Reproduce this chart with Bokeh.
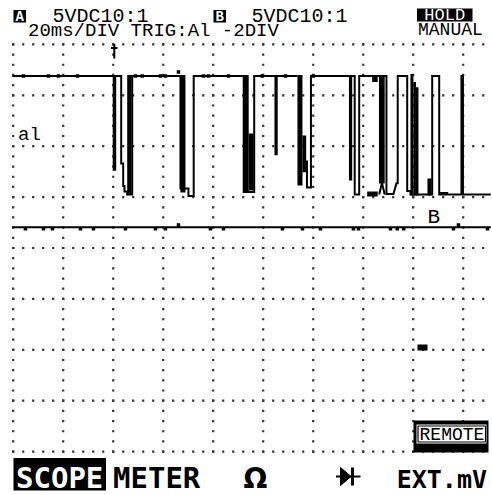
from bokeh.plotting import figure
from bokeh.models import Range1d
from bokeh.embed import file_html
from bokeh.resources import INLINE
from bokeh.core.properties import value
import numpy as np

# ---------------- scope set-up (from the header) ----------------
ms_per_div = 20            # 20ms/DIV
volts_per_div = 5          # 5VDC 10:1 on both channels
a_ground_div = 1.0         # channel A zero level, divisions above screen centre
b_ground_div = 0.41        # channel B zero level
half_screen_div = 4.8625   # visible half-height of the screen, in divisions
t_view = (-45.08, 151.72)  # visible time window, ms (trigger at 0, -2DIV)
px_per_div = 50.9          # vertical pixels per division (for text nudging)

time_grid_ms = [-40, -20, 0, 20, 40, 60, 80, 100, 120, 140]
div_grid = [4, 3, 2, 1, 0, -1, -2, -3, -4]

# ---------------- channel A trace (ms, V) ----------------
a_path_t = [
    [-40.4, 3.2, 3.2, 4.0, 4.0, 4.5, 4.5, 5.6, 5.6, 7.6, 7.6, 26.9, 26.9, 30.1,
     30.1, 32.2, 32.2, 52.2, 52.2, 56.4, 56.4, 73.7],
    [77.5, 77.5, 79.1, 79.1, 96.6, 96.6, 98.4, 98.4, 109.3, 109.3, 112.1, 113.3,
     113.8, 113.8, 117.6, 117.6, 118.9, 118.9, 127.6, 127.6, 130.4, 130.4, 139.3,
     139.3, 139.9, 139.9, 151.0],
    [106.4, 107.5, 108.6],
]
a_path_v = [
    [11.9, 11.9, 3.3, 3.3, 1.1, 1.1, 0.55, 0.55, 0.25, 0.25, 11.9, 11.9, 0.84, 0.84,
     0.1, 0.1, 11.9, 11.9, 0.5, 0.5, 11.9, 11.9],
    [3.6, 0.94, 0.94, 11.9, 11.9, 0.25, 0.25, 11.9, 11.9, 0.3, 0.3, 1.35,
     1.35, 11.9, 11.9, 0.6, 0.6, 0.25, 0.25, 11.9, 11.9, 0.25, 0.25,
     11.9, 11.9, 0.25, 0.25],
    [0.25, 1.4, 0.25],
]

# bursts of fast toggling (min/max envelope), ms and V
a_burst_t0 = [-0.2, 5.6, 26.9, 52.2, 54.2, 64.5, 73.7, 75.7, 94.3, 101.6, 103.6, 106.3, 118.9, 120.1, 121.1, 125.7, 130.5]
a_burst_t1 = [1.2, 7.3, 28.9, 54.2, 56.2, 65.8, 75.7, 77.2, 95.6, 105.8, 105.8, 108.6, 120.1, 121.1, 122.1, 127.3, 134.0]
a_burst_lo = [2.6, 0.25, 0.45, 0.45, 0.65, 4.1, 1.14, 2.45, 1.63, 0.06, 11.3, 1.34, 0.15, 0.15, 0.15, 0.15, 0.2]
a_burst_hi = [12.0, 12.0, 12.0, 12.0, 6.25, 12.0, 12.0, 6.05, 12.0, 0.55, 11.9, 12.0, 12.1, 11.3, 10.8, 1.83, 0.5]

# single-sample glitches on A's high level
a_noise_t = [-35.9, -25.9, -21.9, -14.3, 8.9, 11.6, 18.9, 20.9, 26.1, 36.1, 38.1, 46.1, 59.6, 68.9, 80.1]
a_noise_v = [11.9, 11.9, 11.9, 11.9, 11.9, 11.9, 11.9, 11.9, 12.3, 11.9, 11.9, 11.9, 11.9, 11.9, 11.9]

# ---------------- channel B trace (ms, V) ----------------
b_t = [-40.4, 151.0]
b_v = [0.0, 0.0]
b_noise_t = [-35.1, -27.9, -24.3, -13.1, -7.9, 4.9, 16.9, 20.9, 26.1, 38.9, 44.1,
             67.7, 75.7, 82.9, 96.1, 98.1, 110.9, 113.6, 116.2, 136.1, 138.1, 149.7]
b_noise_v = [-0.15, -0.15, -0.15, -0.15, -0.15, -0.15, -0.15, -0.15, 0.2, -0.15, -0.15,
             -0.15, -0.15, -0.15, -0.15, -0.15, -0.15, -0.15, -0.15, -0.15, 0.2, -0.15]

# ---------------- figure ----------------
p = figure(width=492, height=495, x_range=Range1d(*t_view),
           y_range=Range1d(-half_screen_div, half_screen_div),
           output_backend="svg", toolbar_location=None, min_border=0,
           x_axis_location=None, y_axis_location=None)
p.grid.visible = False
p.outline_line_color = None
p.background_fill_color = "white"
p.border_fill_color = "white"
p.extra_y_ranges = {
    "A": Range1d(volts_per_div * (-half_screen_div - a_ground_div),
                 volts_per_div * (half_screen_div - a_ground_div)),
    "B": Range1d(volts_per_div * (-half_screen_div - b_ground_div),
                 volts_per_div * (half_screen_div - b_ground_div)),
}

# dotted graticule
step_t = ms_per_div / 5
row_t = np.arange(time_grid_ms[0], 150, step_t)
col_d = np.arange(-4, 4.001, 0.2)
gx, gy = [], []
for d in div_grid:
    gx += list(row_t); gy += [d] * len(row_t)
for t in time_grid_ms:
    gx += [t] * len(col_d); gy += list(col_d)
p.scatter(gx, gy, marker="square", size=2.2, fill_color="#333333", line_color=None)

# channel A
p.multi_line(a_path_t, a_path_v, y_range_name="A", line_color="black", line_width=2,
             line_join="miter")
p.quad(left=a_burst_t0, right=a_burst_t1, bottom=a_burst_lo, top=a_burst_hi,
       y_range_name="A", fill_color="black", line_color=None)
p.scatter(a_noise_t, a_noise_v, y_range_name="A", marker="square", size=3.5,
          fill_color="black", line_color=None)

# channel B
p.line(b_t, b_v, y_range_name="B", line_color="black", line_width=2)
p.scatter(b_noise_t, b_noise_v, y_range_name="B", marker="square", size=3.5,
          fill_color="black", line_color=None)

MONO = value("Liberation Mono")
BOLD = value("DejaVu Sans Mono")


def label(xs, ys, texts, size, font=MONO, color="black", align="left", style="normal"):
    # baseline nudged up so the glyphs sit on the wanted baseline
    lift = 0.3 * size / px_per_div
    p.text(x=xs, y=[y + lift for y in ys], text=texts, text_font=font,
           text_font_size=f"{size}px", text_font_style=style, text_color=color,
           text_align=align, text_baseline="alphabetic")


# header
p.quad(left=[-39.88, 40.12, 121.52], right=[-34.88, 45.12, 143.72],
       top=[4.676, 4.676, 4.705], bottom=[4.430, 4.430, 4.450],
       fill_color="black", line_color=None)
label([-37.4, 42.6], [4.450, 4.450], ["A", "B"], 14, color="white", align="center", style="bold")
label([132.6], [4.468], ["HOLD"], 17, color="white", align="center")
label([-24.28, 55.32], [4.430, 4.430], ["5VDC10:1", "5VDC10:1"], 20)
label([-34.08], [4.155], ["20ms/DIV TRIG:Al -2DIV"], 19)
label([121.92], [4.175], ["MANUAL"], 18)

# trigger point marker (t = 0)
p.segment(x0=[0.44, -0.88], y0=[4.008, 3.929], x1=[0.44, 1.72], y1=[3.723, 3.929],
          line_color="black", line_width=2)

# trace labels
label([-38.08], [2.112], ["al"], 19)
label([128.24], [0.481], ["B"], 21, align="center")

# small level marker
p.quad(left=[121.72], right=[125.72], top=[-1.896], bottom=[-2.014],
       fill_color="black", line_color=None)

# REMOTE box
p.quad(left=[120.12], right=[150.12], top=[-3.389], bottom=[-4.018],
       fill_color="black", line_color=None)
p.quad(left=[121.32], right=[149.32], top=[-3.468], bottom=[-3.841],
       fill_color="white", line_color=None)
p.quad(left=[121.92], right=[148.92], top=[-3.497], bottom=[-3.811],
       fill_color=None, line_color="black", line_width=1.2)
label([135.5], [-3.782], ["REMOTE"], 18, align="center")

# bottom soft-key labels
p.quad(left=[-39.88], right=[-2.88], top=[-4.126], bottom=[-4.764],
       fill_color="black", line_color=None)
label([-38.88], [-4.686], ["SCOPE"], 29, font=BOLD, color="white", style="bold")
label([-0.08], [-4.686], ["METER"], 29, font=BOLD, style="bold")
label([56.92], [-4.686], ["Ω"], 28, font=value("DejaVu Sans"), align="center", style="bold")
label([149.52], [-4.686], ["EXT.mV"], 25, font=BOLD, align="right", style="bold")
# diode symbol
p.patch(x=[90.92, 90.92, 95.12], y=[-4.312, -4.666, -4.489], fill_color="black",
        line_color="black", line_width=1)
p.segment(x0=[95.72, 89.12], y0=[-4.312, -4.489], x1=[95.72, 98.92], y1=[-4.666, -4.489],
          line_color="black", line_width=[3, 2])

open("out.html", "w").write(file_html(p, INLINE))
